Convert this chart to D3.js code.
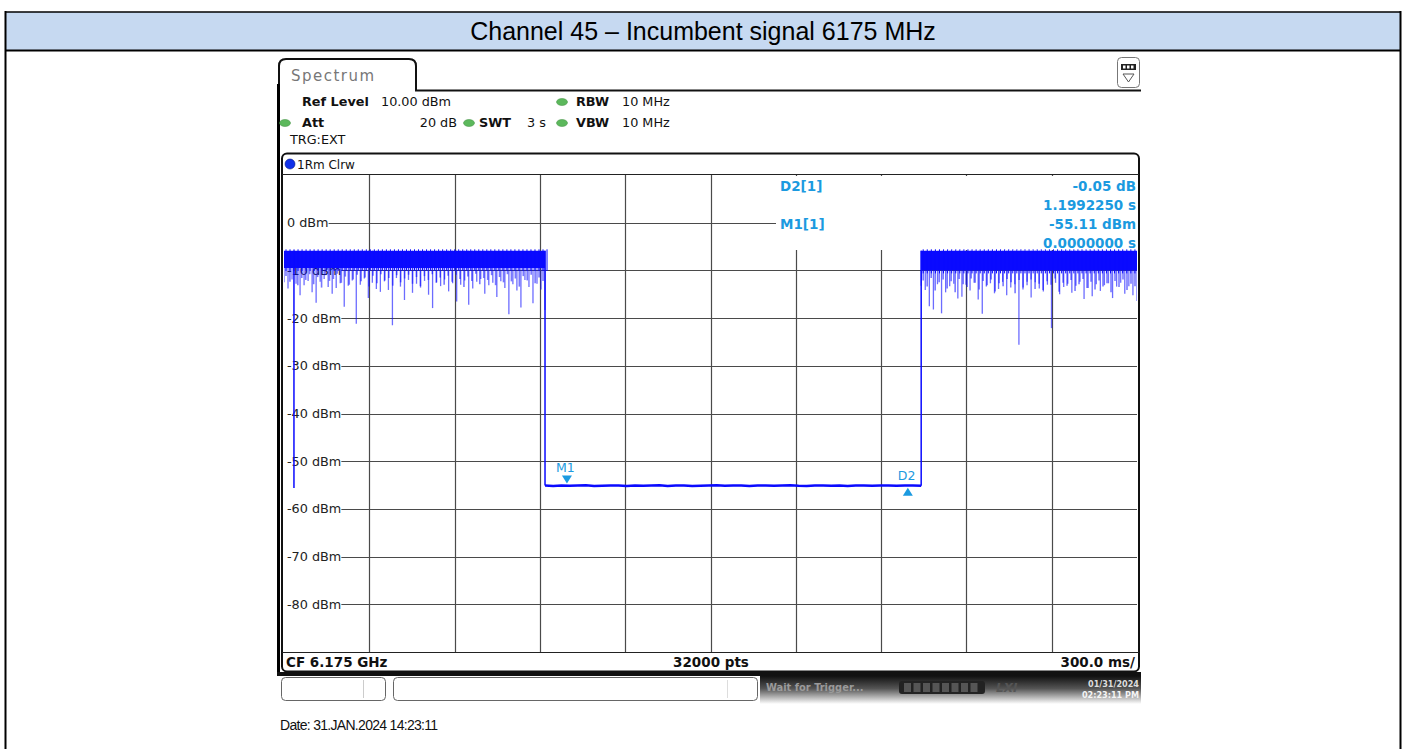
<!DOCTYPE html>
<html>
<head>
<meta charset="utf-8">
<script src="https://cdn.jsdelivr.net/npm/d3@7"></script>
<style>
body { margin: 0; background: #fff; }
svg { display: block; }
</style>
</head>
<body>
<svg id="chart"></svg>
<script>
const W = 1407, H = 749;

const title = "Channel 45 – Incumbent signal 6175 MHz";
const dateLine = "Date: 31.JAN.2024 14:23:11";

// sweep: 10 divisions of 300 ms, level 10 dBm .. -90 dBm
const timeDivs = [0, 0.3, 0.6, 0.9, 1.2, 1.5, 1.8, 2.1, 2.4, 2.7, 3.0];
const levelTicks = [0, -10, -20, -30, -40, -50, -60, -70, -80];
const refLevel = 10, bottomLevel = -90;

// trace
const signalTop = -5.9;
const bandFloorLeft = -9.5, bandFloorRight = -10.0;
const dropTime = 0.918, riseTime = 2.241;
const glitch = { t: 0.035, v: -55.6 };
const leftDips = [-12.5, -13.8, -11.9, -12.8, -15.2, -13.1, -12.2, -14.6, -16.8, -12.4,
  -11.8, -13.5, -14.9, -13.7, -12.7, -17.6, -13.2, -12.1, -21.2, -13.0,
  -11.7, -15.8, -12.6, -13.9, -14.5, -12.3, -14.1, -21.5, -11.6, -13.4,
  -16.2, -12.0, -14.7, -12.8, -13.6, -12.2, -15.1, -17.9, -12.5, -13.3,
  -11.9, -14.4, -12.7, -16.5, -13.0, -12.1, -17.2, -13.8, -12.4, -11.8,
  -14.9, -13.1, -12.6, -15.6, -12.3, -13.7, -19.2, -12.9, -14.2, -17.8,
  -12.0, -13.5, -16.9, -12.8, -14.0, -18.3];
const leftFringe = [-11.2, -12.4, -10.9, -13.1, -11.6, -12.0, -10.8, -12.9, -11.4, -13.6,
  -11.0, -12.2, -11.8, -10.7, -12.6, -11.3, -13.0, -11.9, -10.9, -12.3,
  -11.5, -13.4, -11.1, -12.7, -10.8, -12.1, -11.6, -13.2, -11.0, -12.5,
  -11.7, -10.9, -12.8, -11.4, -13.3, -11.2, -12.0, -10.8, -12.6, -11.5,
  -13.0, -11.1, -12.4, -10.9, -11.8, -13.5, -11.3, -12.2, -10.7, -12.9,
  -11.6, -12.0, -11.0, -13.1, -11.4, -12.5, -10.8, -12.3, -11.7, -13.4,
  -11.2, -12.1, -10.9, -12.7, -11.5, -12.2];
const rightDips = [-13.2, -14.1, -17.5, -18.2, -12.9, -19.0, -14.6, -13.3, -12.8, -15.9,
  -15.5, -13.0, -14.2, -12.6, -16.1, -19.1, -13.4, -12.7, -14.8, -13.9,
  -12.4, -15.2, -13.6, -12.9, -25.6, -14.0, -13.1, -15.7, -12.5, -13.8,
  -14.4, -13.0, -22.1, -12.6, -15.0, -13.5, -12.8, -14.7, -13.2, -12.4,
  -16.0, -13.7, -15.4, -12.9, -14.3, -13.1, -12.7, -15.8, -13.4, -12.6,
  -14.9, -13.3, -15.2, -16.4];
const rightFringe = [-12.1, -13.4, -11.6, -14.2, -12.5, -11.9, -13.8, -12.3, -14.6, -11.8,
  -12.9, -13.5, -11.7, -12.6, -14.0, -12.2, -13.1, -11.9, -14.4, -12.7,
  -13.3, -11.8, -12.5, -14.8, -12.0, -13.6, -12.4, -11.9, -13.9, -12.8,
  -14.1, -12.3, -13.0, -11.7, -14.5, -12.6, -13.2, -12.0, -14.3, -12.9,
  -11.8, -13.7, -12.4, -14.0, -12.1, -13.4, -12.7, -14.6, -12.2, -13.5,
  -11.9, -14.1, -12.8, -13.3];
const floorNoise = [-55.1, -55.2, -55.1, -55.15, -55.1, -55.05, -55.2, -55.15, -55.1, -55.1,
  -55.2, -55.1, -55.15, -55.1, -55.05, -55.2, -55.1, -55.1, -55.2, -55.15,
  -55.1, -55.05, -55.15, -55.1, -55.1, -55.2, -55.1, -55.1, -55.15, -55.1,
  -55.05, -55.15, -55.2, -55.1, -55.1, -55.15, -55.1, -55.2, -55.1, -55.1,
  -55.15, -55.1, -55.1, -55.15, -55.1, -55.1, -55.15];

const markers = [
  { name: "M1", t: 0.995, v: -55.11, dir: "down" },
  { name: "D2", t: 2.194, v: -55.16, dir: "up" }
];
const markerInfo = [
  { label: "D2[1]", lines: ["-0.05 dB", "1.1992250 s"] },
  { label: "M1[1]", lines: ["-55.11 dBm", "0.0000000 s"] }
];
const settingsRow1 = [["Ref Level", "10.00 dBm"], ["RBW", "10 MHz"]];
const settingsRow2 = [["Att", "20 dB"], ["SWT", "3 s"], ["VBW", "10 MHz"]];
const footer = ["CF 6.175 GHz", "32000 pts", "300.0 ms/"];

const traceColor = "#0a0aff", mkColor = "#1b9ae0", gridColor = "#4a4a4a";
const mono = "'DejaVu Sans', Verdana, sans-serif";
const cond = "'DejaVu Sans Condensed', 'DejaVu Sans', sans-serif";

const svg = d3.select("#chart").attr("width", W).attr("height", H)
  .attr("viewBox", `0 0 ${W} ${H}`);

// ---- surrounding table ----
svg.append("rect").attr("x", 6).attr("y", 12).attr("width", 1394).attr("height", 38)
  .attr("fill", "#c6d9f1");
svg.append("line").attr("x1", 5).attr("x2", 1401).attr("y1", 12).attr("y2", 12)
  .attr("stroke", "#000").attr("stroke-width", 1.5);
svg.append("line").attr("x1", 5).attr("x2", 1401).attr("y1", 50.5).attr("y2", 50.5)
  .attr("stroke", "#000").attr("stroke-width", 2);
[5.5, 1400.5].forEach(xx => svg.append("line").attr("x1", xx).attr("x2", xx)
  .attr("y1", 11).attr("y2", H).attr("stroke", "#000").attr("stroke-width", 2));
svg.append("text").attr("x", 703).attr("y", 40).attr("text-anchor", "middle")
  .attr("font-family", "'Liberation Sans', Arial, sans-serif").attr("font-size", 25)
  .text(title);

// ---- analyzer screen ----
const scr = svg.append("g");

// tab and outline
scr.append("path")
  .attr("d", "M279,676 L279,66 Q279,59 286,59 L409,59 Q416,59 416,66 L416,90.5 L1141,90.5")
  .attr("fill", "none").attr("stroke", "#111").attr("stroke-width", 2);
scr.append("line").attr("x1", 278.5).attr("x2", 278.5).attr("y1", 84).attr("y2", 676)
  .attr("stroke", "#000").attr("stroke-width", 3);
scr.append("text").attr("x", 291).attr("y", 81).attr("font-family", mono)
  .attr("font-size", 15).attr("fill", "#777").attr("textLength", 83).text("Spectrum");

// top right icon
const ic = scr.append("g");
ic.append("rect").attr("x", 1117.5).attr("y", 57.5).attr("width", 22).attr("height", 30)
  .attr("rx", 4).attr("fill", "#fff").attr("stroke", "#777");
ic.append("rect").attr("x", 1121).attr("y", 64).attr("width", 15).attr("height", 6)
  .attr("fill", "#222");
[1123, 1127, 1131].forEach(xx => ic.append("rect").attr("x", xx).attr("y", 65.5)
  .attr("width", 2.5).attr("height", 3).attr("fill", "#fff"));
ic.append("path").attr("d", "M1123,74 L1134,74 L1128.5,82 Z").attr("fill", "none")
  .attr("stroke", "#555");

// settings text
function dot(cx, cy) {
  scr.append("ellipse").attr("cx", cx).attr("cy", cy).attr("rx", 5.5).attr("ry", 3.5)
    .attr("fill", "#5cb85c").attr("stroke", "#3c8d3c").attr("stroke-width", 0.5);
}
function setText(xx, yy, s, bold, anchor) {
  scr.append("text").attr("x", xx).attr("y", yy).attr("font-family", mono)
    .attr("font-size", 12.8).attr("font-weight", bold ? "bold" : "normal")
    .attr("text-anchor", anchor || "start").attr("fill", "#111").text(s);
}
setText(302, 106, settingsRow1[0][0], true);
setText(381, 106, settingsRow1[0][1], false);
dot(562, 102);
setText(576, 106, settingsRow1[1][0], true);
setText(622, 106, settingsRow1[1][1], false);
dot(285, 123);
setText(302, 127, settingsRow2[0][0], true);
setText(457, 127, settingsRow2[0][1], false, "end");
dot(469, 123);
setText(479, 127, settingsRow2[1][0], true);
setText(527, 127, settingsRow2[1][1], false);
dot(562, 123);
setText(576, 127, settingsRow2[2][0], true);
setText(622, 127, settingsRow2[2][1], false);
setText(290, 144, "TRG:EXT", false);

// trace window frame
scr.append("rect").attr("x", 282).attr("y", 153.5).attr("width", 857).attr("height", 518)
  .attr("rx", 5).attr("fill", "#fff").attr("stroke", "#111").attr("stroke-width", 2);
scr.append("line").attr("x1", 282).attr("x2", 1139).attr("y1", 174.5).attr("y2", 174.5)
  .attr("stroke", "#222").attr("stroke-width", 1.2);
scr.append("circle").attr("cx", 290).attr("cy", 164).attr("r", 5)
  .attr("fill", "#1030e8").attr("stroke", "#0a1a80").attr("stroke-width", 0.6);
scr.append("text").attr("x", 297).attr("y", 169).attr("font-family", mono)
  .attr("font-size", 12).attr("fill", "#111").text("1Rm Clrw");

// scales
const x = d3.scaleLinear().domain([0, 3]).range([284, 1137]);
const y = d3.scaleLinear().domain([refLevel, bottomLevel]).range([175, 652]);

// vertical grid
scr.append("g").selectAll("line").data(timeDivs.slice(1, -1)).join("line")
  .attr("x1", d => Math.round(x(d)) + 0.5).attr("x2", d => Math.round(x(d)) + 0.5)
  .attr("y1", y(refLevel)).attr("y2", y(bottomLevel))
  .attr("stroke", gridColor).attr("stroke-width", 1.2);

// horizontal grid with labels
const hg = scr.append("g").selectAll("g").data(levelTicks).join("g");
hg.append("text").attr("x", 287).attr("y", d => y(d) + 4.5).attr("font-family", mono)
  .attr("font-size", 12.8).attr("fill", "#222").text(d => `${d} dBm`);
hg.each(function(d) {
  const t = d3.select(this).select("text").node();
  const end = 287 + t.getComputedTextLength();
  d3.select(this).append("line").attr("x1", end).attr("x2", x(3))
    .attr("y1", Math.round(y(d)) + 0.5).attr("y2", Math.round(y(d)) + 0.5)
    .attr("stroke", gridColor).attr("stroke-width", 1.2);
});

// plot bottom line
scr.append("line").attr("x1", 282).attr("x2", 1139).attr("y1", 652.5).attr("y2", 652.5)
  .attr("stroke", "#222").attr("stroke-width", 1.2);

// marker info area (covers grid)
scr.append("rect").attr("x", 776).attr("y", 176).attr("width", x(3) - 776).attr("height", 74)
  .attr("fill", "#fff");
markerInfo.forEach((m, k) => {
  const base = 191 + k * 38;
  scr.append("text").attr("x", 780).attr("y", base).attr("font-family", mono)
    .attr("font-weight", "bold").attr("font-size", 13.5).attr("fill", mkColor).text(m.label);
  m.lines.forEach((s, j) => scr.append("text").attr("x", 1136).attr("y", base + j * 19)
    .attr("text-anchor", "end").attr("font-family", mono).attr("font-weight", "bold")
    .attr("font-size", 13.5).attr("fill", mkColor).text(s));
});

// ---- trace ----
svg.append("clipPath").attr("id", "plotClip").append("rect")
  .attr("x", x(0)).attr("y", y(refLevel)).attr("width", x(3) - x(0))
  .attr("height", y(bottomLevel) - y(refLevel));
const tr = scr.append("g").attr("clip-path", "url(#plotClip)");

function drawSignal(dips, fringe, t0, t1, floor) {
  const step = (t1 - t0) / (dips.length - 1);
  const fstep = (t1 - t0) / fringe.length;
  tr.append("g").selectAll("line").data(fringe).join("line")
    .attr("x1", (d, i) => x(t0 + (i + 0.5) * fstep)).attr("x2", (d, i) => x(t0 + (i + 0.5) * fstep))
    .attr("y1", y(signalTop)).attr("y2", d => y(d))
    .attr("stroke", traceColor).attr("stroke-opacity", 0.55).attr("stroke-width", 1.6);
  tr.append("g").selectAll("line").data(dips).join("line")
    .attr("x1", (d, i) => x(t0 + i * step)).attr("x2", (d, i) => x(t0 + i * step))
    .attr("y1", y(signalTop)).attr("y2", d => y(d))
    .attr("stroke", traceColor).attr("stroke-opacity", 0.6).attr("stroke-width", 1.3);
  tr.append("rect").attr("x", x(t0)).attr("width", x(t1) - x(t0))
    .attr("y", y(signalTop)).attr("height", y(floor) - y(signalTop))
    .attr("fill", traceColor);
  // ragged top edge
  tr.append("g").selectAll("line").data(dips).join("line")
    .attr("x1", (d, i) => x(t0 + i * step) + 2).attr("x2", (d, i) => x(t0 + i * step) + 2)
    .attr("y1", y(signalTop) - 1.5).attr("y2", y(floor) + 3)
    .attr("stroke", traceColor).attr("stroke-width", 1);
}
drawSignal(leftDips, leftFringe, 0, dropTime, bandFloorLeft);
drawSignal(rightDips, rightFringe, riseTime, 3, bandFloorRight);

const vline = (t, v0, v1, w) => tr.append("line").attr("x1", x(t)).attr("x2", x(t))
  .attr("y1", y(v0)).attr("y2", y(v1)).attr("stroke", traceColor).attr("stroke-width", w);
vline(glitch.t, signalTop, glitch.v, 1.5);
vline(dropTime, signalTop, floorNoise[0], 1.5);
vline(riseTime, signalTop, floorNoise[floorNoise.length - 1], 1.5);

const fstep = (riseTime - dropTime) / (floorNoise.length - 1);
tr.append("path").datum(floorNoise)
  .attr("d", d3.line().x((d, i) => x(dropTime + i * fstep)).y(d => y(d)))
  .attr("fill", "none").attr("stroke", traceColor).attr("stroke-width", 2.6);

// markers
markers.forEach(m => {
  const mx = x(m.t), my = y(m.v);
  const tri = m.dir === "down"
    ? `M${mx - 5},${my - 10} L${mx + 5},${my - 10} L${mx},${my - 2} Z`
    : `M${mx - 5},${my + 10} L${mx + 5},${my + 10} L${mx},${my + 2} Z`;
  scr.append("path").attr("d", tri).attr("fill", mkColor);
  scr.append("text").attr("x", m.dir === "down" ? mx - 11 : mx - 10)
    .attr("y", m.dir === "down" ? my - 14 : my - 6)
    .attr("font-family", mono).attr("font-size", 12.5).attr("fill", mkColor).text(m.name);
});

// footer of trace window
const fstyle = s => s.attr("font-family", mono)
  .attr("font-weight", "bold").attr("font-size", 13.5)
  .attr("fill", "#111");
scr.append("text").attr("x", 286).attr("y", 667).call(fstyle).text(footer[0]);
scr.append("text").attr("x", 711).attr("y", 667).attr("text-anchor", "middle").call(fstyle).text(footer[1]);
scr.append("text").attr("x", 1135).attr("y", 667).attr("text-anchor", "end").call(fstyle).text(footer[2]);

// status bar
const grad = svg.append("defs").append("linearGradient").attr("id", "stGrad")
  .attr("x1", 0).attr("x2", 0).attr("y1", 0).attr("y2", 1);
grad.append("stop").attr("offset", 0).attr("stop-color", "#111");
grad.append("stop").attr("offset", 0.45).attr("stop-color", "#555");
grad.append("stop").attr("offset", 1).attr("stop-color", "#fff");
scr.append("rect").attr("x", 277).attr("y", 672).attr("width", 864).attr("height", 4)
  .attr("fill", "#111");
scr.append("rect").attr("x", 760).attr("y", 676).attr("width", 381).attr("height", 28)
  .attr("fill", "url(#stGrad)");
scr.append("rect").attr("x", 281.5).attr("y", 677.5).attr("width", 104).attr("height", 23)
  .attr("rx", 4).attr("fill", "#fff").attr("stroke", "#666");
scr.append("line").attr("x1", 363.5).attr("x2", 363.5).attr("y1", 680).attr("y2", 698)
  .attr("stroke", "#ccc");
scr.append("rect").attr("x", 393.5).attr("y", 677.5).attr("width", 364).attr("height", 23)
  .attr("rx", 4).attr("fill", "#fff").attr("stroke", "#666");
scr.append("line").attr("x1", 727.5).attr("x2", 727.5).attr("y1", 680).attr("y2", 698)
  .attr("stroke", "#ddd");
scr.append("text").attr("x", 766).attr("y", 691).attr("font-family", cond)
  .attr("font-stretch", "condensed").attr("font-weight", "bold").attr("font-size", 11)
  .attr("fill", "#9a9a9a").text("Wait for Trigger...");
scr.append("rect").attr("x", 899).attr("y", 681).attr("width", 86).attr("height", 13)
  .attr("rx", 3).attr("fill", "#222");
scr.append("g").selectAll("rect").data(d3.range(8)).join("rect")
  .attr("x", d => 904 + d * 9.5).attr("y", 683).attr("width", 7).attr("height", 9)
  .attr("fill", "#555");
scr.append("text").attr("x", 996).attr("y", 692).attr("font-family", mono)
  .attr("font-style", "italic").attr("font-weight", "bold").attr("font-size", 12)
  .attr("fill", "#555").text("LXI");
scr.append("text").attr("x", 1139).attr("y", 687).attr("text-anchor", "end")
  .attr("font-family", cond).attr("font-weight", "bold")
  .attr("font-size", 9).attr("fill", "#ddd").text("01/31/2024");
scr.append("text").attr("x", 1139).attr("y", 698).attr("text-anchor", "end")
  .attr("font-family", cond).attr("font-weight", "bold")
  .attr("font-size", 9).attr("fill", "#f4f4f4").text("02:23:11 PM");

// date line under the screenshot
svg.append("text").attr("x", 280).attr("y", 730)
  .attr("font-family", "'Liberation Sans', Arial, sans-serif").attr("font-size", 14)
  .attr("letter-spacing", -0.7).attr("fill", "#111").text(dateLine);
</script>
</body>
</html>
